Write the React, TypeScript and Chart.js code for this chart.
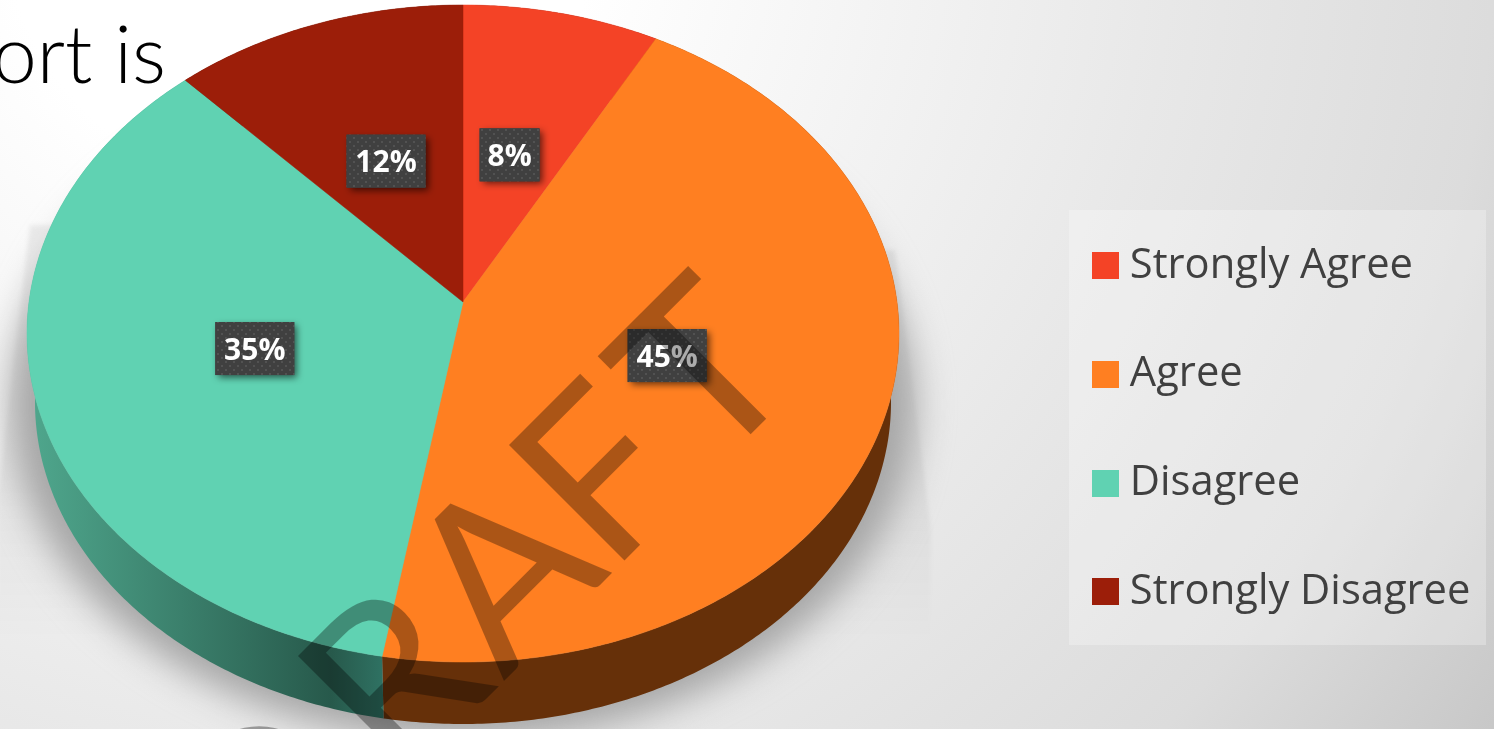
import React, { useEffect, useRef } from "react";
import { Chart, registerables } from "chart.js";

Chart.register(...registerables);

const categories = ["Strongly Agree", "Agree", "Disagree", "Strongly Disagree"];
const shares = [8, 44.7, 35.3, 12];
const sliceColors = ["#F44326", "#FF7F21", "#60D2B2", "#9C1E09"];
const wallColors = ["#66190F", "#663009", "#3A7F6B", "#410C04"];
const labelNudgeX = [-5, -4, 2.5, -0.5];
const labelNudgeY = [3.5, -1, -1, 4];
const watermarkLetters = ["D", "R", "A", "F", "T"];
const watermarkShift = [-38, -15, -10, -14, 0];

const W = 1494, H = 729;
const CX = 463, CY = 302, A = 434, B = 325.5, K = 0.0959;
const ELL_Y = 333.5, ELL_RX = 436, ELL_RY = 328.5;
const LOW_Y = 402, LOW_RX = 428, LOW_RY = 322;

function project(a: number, t = 1) {
  const u = t * Math.cos(a), v = t * Math.sin(a), w = 1 - K * v;
  return { x: CX + (A * u) / w, y: CY + (B * v) / w };
}
function lower(p: { x: number; y: number }) {
  return { x: CX + ((p.x - CX) * LOW_RX) / ELL_RX, y: LOW_Y + ((p.y - ELL_Y) * LOW_RY) / ELL_RY };
}
function rim(s: number, e: number) {
  const n = Math.max(4, Math.ceil((e - s) / 0.01));
  const pts = [];
  for (let i = 0; i <= n; i++) pts.push(project(s + ((e - s) * i) / n));
  return pts;
}

function dotPattern(ctx: CanvasRenderingContext2D) {
  const c = document.createElement("canvas");
  c.width = 8; c.height = 8;
  const g = c.getContext("2d")!;
  g.fillStyle = "#404040";
  g.fillRect(0, 0, 8, 8);
  g.fillStyle = "#525252";
  g.fillRect(1, 1, 2, 2);
  g.fillRect(5, 5, 2, 2);
  return ctx.createPattern(c, "repeat")!;
}

function swatch(color: string) {
  const c = document.createElement("canvas");
  c.width = 27; c.height = 27;
  const g = c.getContext("2d")!;
  g.fillStyle = color;
  g.fillRect(0, 0, 27, 27);
  return c;
}

const scene = {
  id: "scene",
  beforeDraw(chart: any) {
    const ctx: CanvasRenderingContext2D = chart.ctx;
    ctx.save();
    const bg = ctx.createRadialGradient(300, -100, 300, 300, -100, 1450);
    bg.addColorStop(0, "#ffffff");
    bg.addColorStop(0.5, "#e8e8e8");
    bg.addColorStop(0.78, "#dcdcdc");
    bg.addColorStop(1, "#c8c8c8");
    ctx.fillStyle = bg;
    ctx.fillRect(0, 0, W, H);
    // legend panel
    ctx.fillStyle = "rgba(255,255,255,0.27)";
    ctx.fillRect(1069, 210, 417, 435);
    // title fragment
    ctx.fillStyle = "#000";
    ctx.font = "300 80px Lato";
    ctx.textAlign = "right";
    ctx.textBaseline = "alphabetic";
    ctx.fillText("ort is", 166, 83);
    ctx.restore();
  },
  beforeDatasetsDraw(chart: any) {
    const ctx: CanvasRenderingContext2D = chart.ctx;
    const arcs = chart.getDatasetMeta(0).data;
    ctx.save();
    // perspective light bands beside the pie
    ctx.save();
    const fade = ctx.createLinearGradient(0, 225, 0, 640);
    fade.addColorStop(0, "rgba(0,0,0,0.06)");
    fade.addColorStop(0.6, "rgba(0,0,0,0.05)");
    fade.addColorStop(1, "rgba(0,0,0,0)");
    ctx.filter = "blur(2px)";
    ctx.fillStyle = fade;
    ctx.beginPath();
    ctx.moveTo(30, 225); ctx.lineTo(-2, 495); ctx.lineTo(-2, 640); ctx.lineTo(120, 640); ctx.lineTo(120, 225);
    ctx.closePath(); ctx.fill();
    ctx.beginPath();
    ctx.moveTo(895, 250); ctx.lineTo(931, 530); ctx.lineTo(930, 640); ctx.lineTo(800, 640); ctx.lineTo(800, 250);
    ctx.closePath(); ctx.fill();
    // soft cast shadow
    ctx.filter = "blur(18px)";
    ctx.fillStyle = "#a5a5a5";
    ctx.beginPath();
    ctx.ellipse(CX, 405, 452, 336, 0, 0, Math.PI * 2);
    ctx.fill();
    ctx.restore();

    // side walls
    arcs.forEach((arc: any, i: number) => {
      const up = rim(arc.startAngle, arc.endAngle);
      const low = up.map(lower).reverse();
      ctx.beginPath();
      up.concat(low).forEach((p, j) => (j ? ctx.lineTo(p.x, p.y) : ctx.moveTo(p.x, p.y)));
      ctx.closePath();
      if (categories[i] === "Disagree") {
        const g = ctx.createLinearGradient(30, 0, 384, 0);
        g.addColorStop(0, "#4FA78D");
        g.addColorStop(0.85, "#27594B");
        g.addColorStop(1, "#2F7263");
        ctx.fillStyle = g;
      } else ctx.fillStyle = wallColors[i];
      ctx.fill();
    });
    // top faces
    arcs.forEach((arc: any, i: number) => {
      ctx.beginPath();
      ctx.moveTo(CX, CY);
      rim(arc.startAngle, arc.endAngle).forEach((p) => ctx.lineTo(p.x, p.y));
      ctx.closePath();
      ctx.fillStyle = sliceColors[i];
      ctx.fill();
      ctx.strokeStyle = sliceColors[i];
      ctx.lineWidth = 0.5;
      ctx.stroke();
    });
    // data labels
    const pattern = dotPattern(ctx);
    arcs.forEach((arc: any, i: number) => {
      const p = project((arc.startAngle + arc.endAngle) / 2, 0.5);
      const x = p.x + labelNudgeX[i], y = p.y + labelNudgeY[i];
      const text = Math.round(shares[i]) + "%";
      ctx.font = "bold 30px 'Open Sans'";
      const bw = text.length > 2 ? 79 : 60, bh = 53;
      ctx.save();
      ctx.shadowColor = "rgba(0,0,0,0.6)";
      ctx.shadowBlur = 7;
      ctx.shadowOffsetX = 3;
      ctx.shadowOffsetY = 3;
      ctx.fillStyle = "#404040";
      ctx.fillRect(x - bw / 2, y - bh / 2, bw, bh);
      ctx.restore();
      ctx.fillStyle = pattern;
      ctx.fillRect(x - bw / 2, y - bh / 2, bw, bh);
      ctx.fillStyle = "#fff";
      ctx.textAlign = "center";
      ctx.textBaseline = "middle";
      ctx.fillText(text, x, y + 2.5);
    });
    ctx.restore();
    return false;
  },
  afterLayout(chart: any) {
    const lg = chart.legend;
    if (!lg) return;
    const pad = lg.options.labels.padding;
    lg.left = 1102 - pad;
    lg.top = 245 - pad;
  },
  afterDraw(chart: any) {
    const ctx: CanvasRenderingContext2D = chart.ctx;
    ctx.save();
    ctx.translate(806, 379);
    ctx.rotate(-Math.PI / 4);
    ctx.fillStyle = "rgba(0,0,0,0.33)";
    ctx.font = "400 228px Lato";
    ctx.textAlign = "right";
    ctx.textBaseline = "alphabetic";
    watermarkLetters.forEach((ch, i) => {
      const after = watermarkLetters.slice(i + 1).join("");
      const right = after ? -ctx.measureText(ch + after).width + ctx.measureText(ch).width : 0;
      ctx.fillText(ch, right + watermarkShift[i], 0);
    });
    ctx.restore();
  },
};

export default function App() {
  const ref = useRef<HTMLCanvasElement>(null);
  useEffect(() => {
    document.body.style.margin = "0";
    document.body.style.overflow = "hidden";
    const chart = new Chart(ref.current!, {
      type: "pie",
      data: {
        labels: categories,
        datasets: [{ data: shares, backgroundColor: sliceColors, borderWidth: 0 }],
      },
      plugins: [scene],
      options: {
        responsive: false,
        animation: false,
        plugins: {
          tooltip: { enabled: false },
          legend: {
            position: "right",
            align: "start",
            labels: {
              usePointStyle: true,
              pointStyleWidth: 7,
              boxHeight: 27,
              padding: 67,
              color: "#404040",
              font: { family: "'Open Sans'", size: 41.7 },
              generateLabels: (c: any) =>
                categories.map((t, i) => ({
                  text: t,
                  fillStyle: sliceColors[i],
                  strokeStyle: sliceColors[i],
                  fontColor: "#404040",
                  lineWidth: 0,
                  pointStyle: swatch(sliceColors[i]),
                  hidden: false,
                  index: i,
                })),
            },
          },
        },
      } as any,
    });
    return () => chart.destroy();
  }, []);
  return <canvas ref={ref} width={W} height={H} style={{ display: "block", position: "absolute", left: 0, top: 0 }} />;
}
